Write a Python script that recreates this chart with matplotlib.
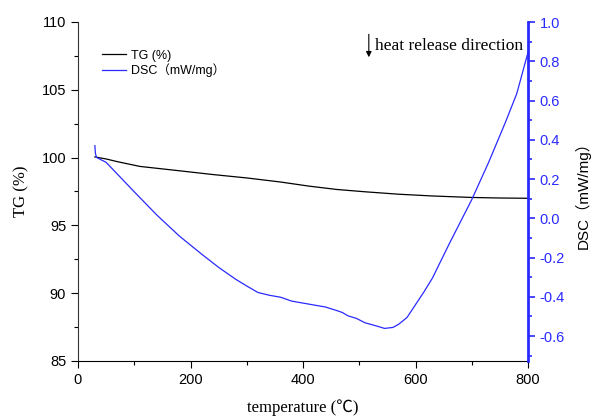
import matplotlib
matplotlib.use("Agg")
import matplotlib.pyplot as plt
from matplotlib.ticker import MultipleLocator

# TG data
tg_temp = [30, 50, 70, 110, 180, 240, 300, 360, 410, 460, 510, 570, 630, 700, 750, 800]
tg_val = [100.05, 99.9, 99.7, 99.35, 99.03, 98.75, 98.5, 98.2, 97.9, 97.65, 97.48, 97.3, 97.17, 97.06, 97.02, 97.0]

# DSC data
dsc_temp = [30, 31, 33, 50, 70, 100, 140, 180, 220, 250, 280, 300, 320, 340, 360, 380, 410,
            440, 460, 470, 480, 495, 510, 530, 545, 560, 570, 585, 600, 615, 630, 660,
            700, 730, 760, 780, 800]
dsc_val = [0.37, 0.33, 0.31, 0.285, 0.225, 0.135, 0.017, -0.09, -0.183, -0.25, -0.31, -0.345,
           -0.378, -0.392, -0.402, -0.422, -0.437, -0.452, -0.47, -0.48, -0.497, -0.51, -0.532,
           -0.548, -0.561, -0.556, -0.54, -0.505, -0.44, -0.375, -0.305, -0.13,
           0.095, 0.285, 0.49, 0.635, 0.845]

dsc_color = "#2a2aff"

fig = plt.figure(figsize=(5.91, 4.16), dpi=100)
ax = fig.add_axes([78/591, 1-361/416, 450/591, 339/416])
ax2 = ax.twinx()

l1, = ax.plot(tg_temp, tg_val, color="black", lw=0.9, label="TG (%)")
l2, = ax2.plot(dsc_temp, dsc_val, color=dsc_color, lw=0.9, label="DSC（mW/mg）")

ax.set_xlim(0, 800)
ax.set_ylim(85, 110)
ax2.set_ylim(-0.727, 1.0)

ax.xaxis.set_major_locator(MultipleLocator(200))
ax.xaxis.set_minor_locator(MultipleLocator(100))
ax.yaxis.set_major_locator(MultipleLocator(5))
ax.yaxis.set_minor_locator(MultipleLocator(2.5))
ax2.yaxis.set_major_locator(MultipleLocator(0.2))
ax2.yaxis.set_minor_locator(MultipleLocator(0.1))

sans = ["Liberation Sans", "Noto Sans CJK SC"]
serif = ["Liberation Serif", "Noto Sans CJK SC"]

for a in (ax, ax2):
    a.spines["top"].set_visible(False)
ax.spines["right"].set_visible(False)
ax2.spines["left"].set_visible(False)
ax2.spines["bottom"].set_visible(False)
ax2.spines["right"].set_color(dsc_color)
ax2.spines["right"].set_linewidth(2.0)
ax.spines["left"].set_color("#333333")
ax.spines["bottom"].set_color("black")

ax.tick_params(axis="both", which="major", direction="out", length=5, width=0.8, labelsize=10.5)
ax.tick_params(axis="both", which="minor", direction="out", length=3, width=0.8)
ax2.tick_params(axis="y", which="major", direction="out", length=5, width=1.2,
                colors=dsc_color, labelsize=10.5)
ax2.tick_params(axis="y", which="minor", direction="out", length=3, width=1.2, colors=dsc_color)

for lab in ax.get_xticklabels() + ax.get_yticklabels():
    lab.set_family(sans)

ax2.set_yticks([-0.6, -0.4, -0.2, 0.0, 0.2, 0.4, 0.6, 0.8, 1.0])
ax2.set_yticklabels(["-0.6", "-0.4", "-0.2", "0.0", "0.2", "0.4", "0.6", "0.8", "1.0"], family=sans)

ax.set_xlabel("temperature (℃)", family=serif, fontsize=12, labelpad=9)
ax.set_ylabel("TG (%)", family=serif, fontsize=12, labelpad=9)
ax2.set_ylabel("DSC（mW/mg）", family=sans, fontsize=11, color="black", labelpad=7)

leg = ax.legend(handles=[l1, l2], loc="upper left", bbox_to_anchor=(0.028, 0.952),
                frameon=False, prop={"family": sans, "size": 9}, handlelength=1.9,
                handletextpad=0.4, labelspacing=0.15)

ax.annotate("", xy=(517, 107.2), xytext=(517, 109.3), xycoords="data",
            arrowprops=dict(arrowstyle="-|>", color="black", lw=0.8, mutation_scale=8))
ax.text(528, 108.2, "heat release direction", family=serif, fontsize=12.5, va="center", ha="left")

fig.savefig("out.png", dpi=100)
